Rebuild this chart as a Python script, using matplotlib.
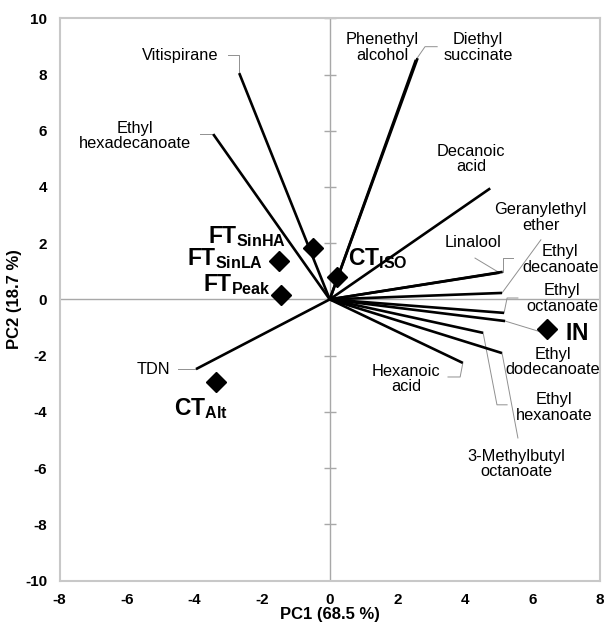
import matplotlib
matplotlib.use('Agg')
import matplotlib.pyplot as plt

plt.rcParams['font.family'] = ['Liberation Sans', 'DejaVu Sans']
plt.rcParams['mathtext.fontset'] = 'custom'
plt.rcParams['mathtext.rm'] = 'Liberation Sans'
plt.rcParams['mathtext.bf'] = 'Liberation Sans:bold'
plt.rcParams['axes.unicode_minus'] = False

# loadings (variables)
loading_names = ['Vitispirane', 'Ethyl\nhexadecanoate', 'Phenethyl\nalcohol', 'Diethyl\nsuccinate',
                 'Decanoic\nacid', 'Geranylethyl\nether', 'Linalool', 'Ethyl\ndecanoate',
                 'Ethyl\noctanoate', 'Ethyl\ndodecanoate', 'Ethyl\nhexanoate',
                 '3-Methylbutyl\noctanoate', 'Hexanoic\nacid', 'TDN']
loading_pc1 = [-2.68, -3.45, 2.6, 2.55, 4.75, 5.1, 5.02, 5.12, 5.16, 5.19, 4.54, 5.1, 3.94, -3.96]
loading_pc2 = [8.05, 5.88, 8.58, 8.52, 3.95, 0.23, 0.95, 0.98, -0.48, -0.77, -1.19, -1.91, -2.26, -2.48]

# label centres for loadings
label_x = [-4.43, -5.76, 1.55, 4.39, 4.18, 6.24, 4.24, 6.82, 6.88, 6.6, 6.63, 5.51, 2.26, -5.22]
label_y = [8.66, 5.81, 8.96, 8.96, 5.0, 2.91, 2.04, 1.43, 0.03, -2.23, -3.85, -5.86, -2.83, -2.48]

# leader lines from label to vector end
leaders = [
    ([-3.0, -2.68, -2.68], [8.69, 8.69, 8.05]),
    ([-3.84, -3.45], [5.88, 5.88]),
    None,
    ([3.18, 2.82, 2.55], [8.99, 8.99, 8.52]),
    None,
    ([6.25, 5.1], [2.12, 0.23]),
    ([4.3, 5.02], [1.47, 0.95]),
    ([5.42, 5.12, 5.12], [1.47, 1.47, 0.98]),
    ([5.57, 5.25, 5.16], [0.05, 0.05, -0.48]),
    ([6.31, 5.19], [-1.18, -0.77]),
    ([5.25, 4.95, 4.54], [-3.75, -3.75, -1.19]),
    ([5.57, 5.1], [-4.93, -1.91]),
    ([3.5, 3.86, 3.94], [-2.76, -2.76, -2.26]),
    ([-4.49, -3.96], [-2.48, -2.48]),
]

# scores (samples)
score_labels = [r'$\mathbf{FT}_{\mathbf{SinHA}}$', r'$\mathbf{FT}_{\mathbf{SinLA}}$',
                r'$\mathbf{FT}_{\mathbf{Peak}}$', r'$\mathbf{CT}_{\mathbf{Alt}}$',
                r'$\mathbf{CT}_{\mathbf{ISO}}$', r'$\mathbf{IN}$']
score_pc1 = [-0.49, -1.49, -1.44, -3.36, 0.22, 6.42]
score_pc2 = [1.83, 1.36, 0.16, -2.93, 0.8, -1.06]
score_lab_x = [-3.6, -4.22, -3.74, -4.6, 0.54, 6.96]
score_lab_y = [2.0, 1.22, 0.3, -4.11, 1.22, -1.45]

ticks = [-8, -6, -4, -2, 0, 2, 4, 6, 8]
yticks = [-10, -8, -6, -4, -2, 0, 2, 4, 6, 8, 10]

fig = plt.figure(figsize=(6.05, 6.34), dpi=100)
ax = fig.add_axes([59.5 / 605, 1 - 580.5 / 634, 540.5 / 605, 562.2 / 634])
ax.set_xlim(-8, 8)
ax.set_ylim(-10, 10)

for s in ax.spines.values():
    s.set_color('#c8c8c8')
    s.set_linewidth(1.5)

ax.axhline(0, color='#a8a8a8', lw=1, zorder=1)
ax.axvline(0, color='#a8a8a8', lw=1, zorder=1)
ax.plot([0] * len(yticks), yticks, ls='none', marker='_', ms=8, mew=1, color='#a8a8a8', zorder=1)

for x, y in zip(loading_pc1, loading_pc2):
    ax.plot([0, x], [0, y], color='black', lw=1.9, solid_capstyle='butt', zorder=3)

for path in leaders:
    if path is not None:
        ax.plot(path[0], path[1], color='#909090', lw=0.7, zorder=2)

for name, x, y in zip(loading_names, label_x, label_y):
    ax.text(x, y, name, ha='center', va='center', fontsize=11.8, linespacing=1.05, zorder=4)

ax.plot(score_pc1, score_pc2, ls='none', marker='D', ms=10, color='black', zorder=5)
for lab, x, y in zip(score_labels, score_lab_x, score_lab_y):
    ax.text(x, y, lab, ha='left', va='baseline', fontsize=16.5, zorder=5)

ax.set_xticks(ticks)
ax.set_yticks(yticks)
ax.tick_params(length=0, pad=9, labelsize=11)
for lab in ax.get_xticklabels() + ax.get_yticklabels():
    lab.set_fontweight('bold')

ax.set_xlabel('PC1 (68.5 %)', fontsize=12, fontweight='bold', labelpad=0)
ax.set_ylabel('PC2 (18.7 %)', fontsize=12, fontweight='bold', labelpad=2)

fig.savefig('out.png', dpi=100)
